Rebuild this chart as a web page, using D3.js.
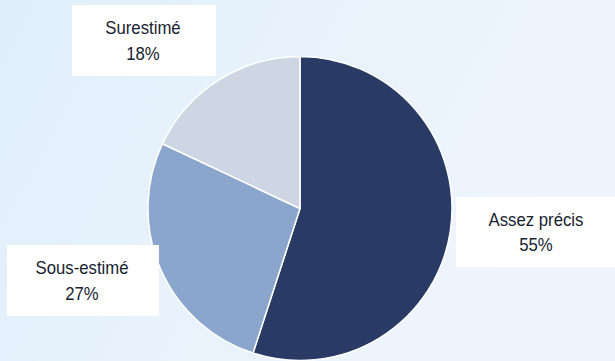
<!DOCTYPE html>
<html>
<head>
<meta charset="utf-8">
<script src="https://cdn.jsdelivr.net/npm/d3@7"></script>
<style>
  html, body { margin: 0; padding: 0; }
  body { width: 615px; height: 361px; overflow: hidden; }
  #chart { width: 615px; height: 361px; }
  text { font-family: "Liberation Sans", Arial, sans-serif; }
</style>
</head>
<body>
<div id="chart"></div>
<script>
// Datos
const categories = ['Assez précis', 'Sous-estimé', 'Surestimé'];
const values = [55, 27, 18];
const valueLabels = ['55%', '27%', '18%'];

// Colores fijos
const COLOR_DARK = '#293A64',
  COLOR_MID = '#8AA6CC',
  COLOR_LIGHT = '#CDD6E2',
  COLOR_TEXT = '#17232F';

init();

function init() {
  let width = 615, height = 361;

  let svg = d3.select('#chart')
    .append('svg')
      .attr('width', width)
      .attr('height', height);

  // fondo degradado
  let defs = svg.append('defs');
  let grad = defs.append('linearGradient')
    .attr('id', 'bg')
    .attr('x1', '0%').attr('y1', '0%')
    .attr('x2', '100%').attr('y2', '30%');
  grad.append('stop').attr('offset', '0%').attr('stop-color', '#E0EFFA');
  grad.append('stop').attr('offset', '100%').attr('stop-color', '#EFF5FD');

  svg.append('rect')
    .attr('width', width)
    .attr('height', height)
    .attr('fill', 'url(#bg)');

  let data = categories.map(function(c, i) {
    return {name: c, value: values[i], label: valueLabels[i]};
  });

  let color = d3.scaleOrdinal()
    .domain(categories)
    .range([COLOR_DARK, COLOR_MID, COLOR_LIGHT]);

  let pie = d3.pie()
    .sort(null)
    .value(function(d) { return d.value; });

  let radius = 152;
  let arc = d3.arc().innerRadius(0).outerRadius(radius);

  let g = svg.append('g')
    .attr('transform', 'translate(300,208.5)');

  g.selectAll('path')
    .data(pie(data))
    .enter()
    .append('path')
      .attr('d', arc)
      .attr('fill', function(d) { return color(d.data.name); })
      .attr('stroke', '#fff')
      .attr('stroke-width', 1.5)
      .attr('stroke-linejoin', 'round');

  // cajas de etiquetas (posición manual, como en el original)
  let boxes = {
    'Assez précis': {x: 456, y: 197, w: 162, h: 70},
    'Sous-estimé': {x: 7, y: 245, w: 152, h: 71},
    'Surestimé': {x: 72, y: 5, w: 144, h: 71}
  };

  let labels = svg.selectAll('.label')
    .data(data)
    .enter()
    .append('g')
      .attr('class', 'label')
      .attr('transform', function(d) {
        let b = boxes[d.name];
        return 'translate(' + b.x + ',' + b.y + ')';
      });

  labels.append('rect')
    .attr('width', function(d) { return boxes[d.name].w; })
    .attr('height', function(d) { return boxes[d.name].h; })
    .attr('fill', '#fff');

  // texto algo condensado, como en la imagen original
  let txt = labels.append('g')
    .attr('transform', function(d) {
      let b = boxes[d.name];
      return 'translate(' + (b.w / 2 - 1) + ',' + (b.h / 2) + ') scale(0.93,1)';
    });

  txt.append('text')
    .attr('y', -6.5)
    .attr('text-anchor', 'middle')
    .attr('font-size', 18)
    .attr('fill', COLOR_TEXT)
    .text(function(d) { return d.name; });

  txt.append('text')
    .attr('y', 19.5)
    .attr('text-anchor', 'middle')
    .attr('font-size', 18)
    .attr('fill', COLOR_TEXT)
    .text(function(d) { return d.label; });
}
</script>
</body>
</html>
